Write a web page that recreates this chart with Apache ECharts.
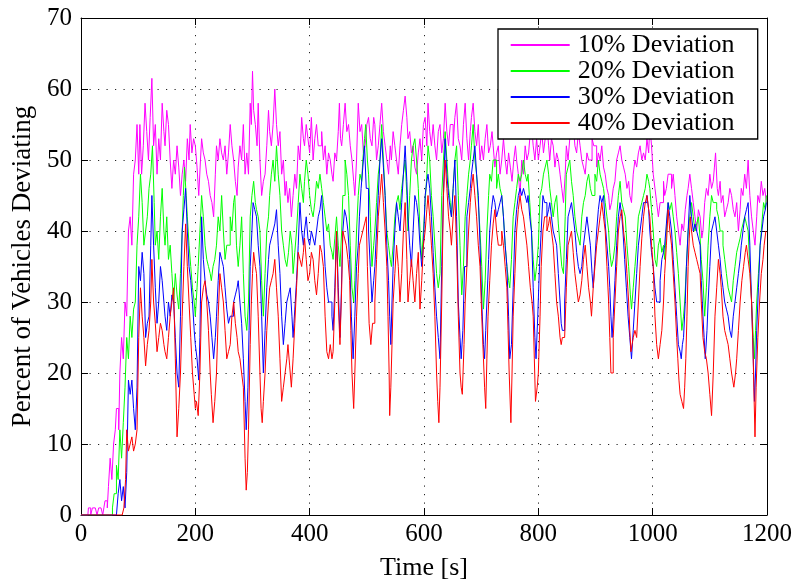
<!DOCTYPE html>
<html>
<head>
<meta charset="utf-8">
<script src="https://cdn.jsdelivr.net/npm/echarts@6/dist/echarts.min.js"></script>
<style>
  html, body { margin: 0; padding: 0; background: #fff; }
  #chart { width: 796px; height: 586px; }
</style>
</head>
<body>
<div id="chart"></div>
<script>
// Share of vehicles deviating from their route over time, one series per deviation threshold.
// Each entry is [time in seconds, percent of vehicles].
const seriesNames = ['10% Deviation', '20% Deviation', '30% Deviation', '40% Deviation'];
const xTicks = [0, 200, 400, 600, 800, 1000, 1200];
const yTicks = [0, 10, 20, 30, 40, 50, 60, 70];

const dev10 = [[0,0],[12,0],[13,1],[17,0],[20,1],[25,1],[28,0],[31,1],[35,1],[38,0],[40,1],[42,2],[46,1],[48,4],[51,8],[54,5],[57,10],[60,12],[62,15],[66,12],[68,20],[71,25],[74,22],[77,30],[80,28],[83,40],[86,42],[89,38],[92,48],[95,50],[98,55],[101,48],[103,55],[106,48],[109,52],[112,58],[115,54],[118,50],[121,56],[124,61.5],[127,52],[130,55],[133,48],[136,53],[139,50],[142,58],[145,54],[147,52],[150,57],[153,55],[156,50],[159,46],[162,50],[165,48],[168,52],[171,49],[174,45],[177,48],[180,50],[183,47],[186,53],[189,50],[191,55],[194,51],[197,53],[200,52],[203,49],[206,45],[209,50],[211,53],[214,51],[217,50],[220,48],[223,47],[226,45],[229,44],[232,42],[235,48],[237,52],[240,50],[243,53],[246,51],[249,50],[252,52],[255,48],[258,51],[261,55],[264,52],[267,50],[270,47],[273,45],[275,49],[278,52],[281,50],[284,55],[287,48],[290,51],[293,48],[296,58],[298,55],[300,62.5],[302,57],[305,55],[308,52],[310,58],[313,50],[316,45],[319,47],[322,48],[325,52],[328,57],[330,54],[333,52],[336,55],[339,60],[342,55],[345,52],[348,54],[351,48],[354,50],[357,45],[359,47],[362,44],[365,46],[368,42],[371,45],[374,48],[377,46],[380,52],[383,50],[386,56],[389,53],[391,52],[394,55],[397,53],[400,51],[403,56],[406,50],[409,53],[412,55],[415,52],[418,52],[421,54],[424,50],[427,52],[430,48],[433,51],[436,50],[439,48],[441,47],[444,51],[447,50],[450,54],[452,58],[454,53],[456,52],[459,55],[462,58],[465,54],[468,55],[471,52],[474,50],[477,47],[479,45],[482,50],[485,58],[488,54],[491,55],[494,51],[497,52],[500,55],[503,56],[506,53],[509,52],[512,56],[514,55],[517,50],[520,52],[523,55],[526,58],[529,54],[532,52],[535,50],[538,48],[541,52],[543,50],[546,54],[549,52],[552,50],[555,48],[558,52],[561,55],[564,57],[567,59],[570,56],[572,53],[575,54],[578,51],[581,52],[584,49],[587,48],[590,51],[593,53],[596,50],[599,55],[602,56],[605,52],[607,58],[610,54],[613,52],[616,55],[619,52],[622,50],[625,54],[628,55],[631,51],[634,53],[637,58],[640,54],[643,52],[646,55],[648,55],[651,52],[654,56],[657,58],[660,53],[663,52],[666,50],[669,55],[672,58],[675,53],[678,50],[681,54],[683,56],[686,58],[689,54],[692,52],[695,55],[698,50],[701,52],[704,50],[707,53],[710,55],[713,51],[716,52],[719,54],[721,52],[724,49],[727,51],[730,52],[733,48],[736,50],[739,53],[742,50],[745,48],[748,51],[751,49],[754,47],[757,50],[760,52],[762,50],[765,48],[768,45],[771,50],[774,48],[777,52],[780,50],[783,51],[786,54],[788,55],[791,52],[794,50],[797,53],[800,50],[803,52],[806,54],[809,51],[812,53],[815,55],[818,52],[820,50],[823,53],[826,52],[829,49],[832,51],[835,50],[838,48],[841,46],[844,44],[847,48],[849,52],[852,50],[855,53],[858,54],[861,55],[864,52],[867,51],[870,54],[873,52],[876,50],[879,49],[882,48],[885,51],[888,50],[891,50],[894,53],[897,52],[899,52],[902,49],[905,51],[908,50],[911,52],[914,49],[917,48],[920,46],[923,45],[925,43],[928,44],[931,46],[934,47],[937,50],[940,51],[943,52],[946,50],[949,49],[952,48],[955,46],[958,47],[960,45],[963,44],[966,48],[969,50],[972,49],[975,51],[978,52],[981,50],[984,51],[987,50],[990,53],[993,51],[995,55],[998,52],[1001,48],[1004,46],[1007,44],[1010,42],[1013,44],[1016,44],[1019,47],[1021,45],[1024,46],[1027,48],[1030,48],[1033,46],[1036,48],[1039,45],[1042,42],[1045,40],[1048,38],[1051,41],[1054,40],[1057,43],[1060,45],[1062,46],[1065,48],[1068,46],[1071,44],[1074,42],[1077,40],[1080,43],[1083,42],[1086,39],[1088,40],[1091,44],[1094,46],[1097,45],[1100,48],[1103,46],[1106,47],[1108,49],[1110,51],[1113,46],[1115,45],[1118,47],[1120,44],[1123,45],[1126,42],[1129,43],[1132,44],[1135,46],[1138,45],[1141,43],[1144,42],[1147,44],[1150,40],[1153,43],[1155,46],[1158,45],[1161,48],[1164,46],[1167,50],[1170,45],[1173,42],[1176,40],[1179,38],[1182,42],[1184,45],[1187,44],[1190,47],[1193,45],[1196,46],[1199,44]];

const dev20 = [[0,0],[50,0],[55,1],[58,3],[62,7],[65,5],[68,12],[71,8],[74,13],[77,18],[80,25],[83,22],[86,28],[89,25],[92,29],[95,30],[98,38],[101,42],[104,48],[107,44],[110,38],[113,40],[116,42],[119,46],[122,48],[125,52],[128,44],[130,38],[133,40],[136,36],[139,42],[142,46],[145,40],[147,38],[150,42],[153,36],[156,38],[159,34],[162,30],[165,34],[168,31],[171,29],[174,34],[177,40],[179,45],[181,49],[184,45],[186,42],[189,38],[192,35],[195,32],[198,30],[200,28],[203,32],[205,35],[208,40],[211,45],[214,42],[217,38],[220,36],[223,35],[226,34],[228,33],[231,35],[234,36],[237,38],[240,42],[243,40],[246,45],[249,40],[252,36],[255,38],[258,38],[261,42],[264,40],[267,44],[269,45],[272,38],[275,35],[278,38],[281,42],[284,34],[287,28],[290,26],[293,30],[296,42],[299,45],[302,47],[305,44],[307,43],[310,42],[313,40],[316,33],[319,28],[322,34],[325,40],[328,42],[330,45],[333,48],[336,50],[339,47],[342,52],[345,48],[348,45],[351,40],[354,38],[357,36],[360,35],[363,37],[366,40],[369,38],[371,34],[374,37],[377,40],[380,44],[383,48],[386,46],[389,44],[391,47],[394,50],[397,48],[400,45],[403,43],[406,42],[409,44],[412,47],[415,46],[418,48],[421,46],[424,44],[427,42],[430,40],[433,41],[436,38],[439,37],[441,36],[444,39],[447,42],[450,38],[453,35],[456,40],[458,45],[462,50],[465,48],[468,45],[471,38],[474,32],[477,30],[479,33],[482,40],[485,45],[488,48],[491,47],[493,50],[496,53],[498,55],[501,50],[503,48],[506,42],[509,35],[512,38],[514,40],[517,44],[520,48],[523,50],[526,55],[529,50],[532,45],[535,40],[538,38],[541,36],[543,35],[546,38],[549,42],[552,44],[555,45],[558,43],[561,46],[564,48],[567,50],[570,45],[572,40],[575,45],[578,50],[581,52],[584,53],[587,50],[590,46],[593,40],[596,36],[599,40],[602,44],[605,48],[607,52],[610,50],[613,45],[616,42],[619,38],[622,34],[625,32],[628,34],[631,45],[634,50],[637,54],[640,50],[643,46],[646,44],[648,42],[651,46],[654,50],[657,52],[660,45],[663,38],[666,31],[669,35],[672,42],[675,45],[678,48],[681,50],[683,52],[686,55],[689,50],[692,48],[695,44],[698,40],[701,35],[704,29],[707,33],[710,40],[713,45],[715,48],[718,47],[721,50],[724,50],[727,46],[730,48],[733,46],[736,45],[739,42],[742,38],[745,35],[748,33],[750,32],[753,36],[756,42],[759,44],[762,46],[765,48],[768,47],[771,48],[774,50],[777,48],[780,47],[782,48],[785,44],[788,40],[791,36],[794,33],[797,35],[800,38],[803,45],[806,46],[809,48],[812,49],[815,50],[818,48],[820,46],[823,44],[826,42],[829,44],[832,45],[835,41],[838,38],[841,35],[844,34],[847,42],[849,48],[852,49],[855,50],[858,47],[861,45],[864,42],[867,40],[870,39],[873,38],[876,42],[879,44],[882,45],[885,47],[888,48],[891,46],[894,45],[896,45],[899,48],[902,47],[905,50],[908,48],[911,47],[914,46],[917,44],[920,42],[923,40],[925,37],[928,35],[931,36],[934,38],[937,42],[940,45],[943,47],[946,44],[949,43],[952,42],[955,38],[958,35],[961,31],[963,29],[966,32],[969,35],[972,38],[975,42],[978,43],[981,44],[984,45],[987,46],[990,48],[993,47],[995,46],[998,43],[1001,40],[1004,36],[1007,35],[1010,38],[1013,39],[1016,37],[1019,38],[1021,36],[1024,40],[1027,44],[1030,43],[1033,44],[1036,42],[1039,40],[1042,37],[1045,34],[1048,30],[1051,26],[1054,28],[1056,30],[1059,35],[1062,40],[1065,42],[1068,44],[1071,42],[1074,40],[1077,41],[1080,42],[1083,39],[1085,36],[1088,33],[1091,28],[1094,32],[1097,38],[1100,42],[1103,45],[1106,44],[1109,44],[1112,43],[1115,42],[1118,40],[1120,40],[1123,38],[1126,36],[1129,34],[1132,32],[1135,31],[1138,30],[1141,33],[1144,35],[1147,37],[1150,38],[1153,39],[1155,40],[1158,41],[1161,42],[1164,41],[1167,40],[1170,35],[1173,30],[1176,25],[1178,22],[1180,26],[1182,30],[1185,34],[1188,38],[1191,41],[1194,44],[1197,43],[1199,45]];

const dev30 = [[0,0],[62,0],[65,3],[68,5],[71,2],[74,4],[77,1],[80,6],[83,19],[86,17],[89,19],[92,15],[95,12],[98,18],[101,35],[104,33],[107,37],[110,34],[113,25],[116,27],[119,28],[122,38],[124,45],[127,38],[130,32],[133,27],[136,30],[139,35],[142,33],[145,30],[147,28],[150,26],[153,30],[156,28],[159,31],[162,30],[165,25],[168,20],[171,18],[174,28],[177,40],[180,43],[183,46],[186,40],[189,35],[192,33],[195,30],[198,26],[200,24],[203,22],[206,19],[208,25],[211,42],[214,36],[217,33],[220,31],[223,30],[226,28],[229,25],[232,22],[235,25],[237,28],[240,33],[243,37],[246,36],[249,35],[252,32],[255,29],[258,27],[261,28],[264,28],[267,30],[270,31],[273,32],[275,33],[278,30],[281,27],[284,22],[287,16],[289,12],[292,18],[294,26],[296,35],[299,40],[301,44],[304,43],[307,42],[310,38],[313,35],[316,28],[319,20],[322,26],[325,32],[328,36],[330,38],[333,39],[336,40],[339,41],[342,43],[345,38],[348,34],[351,28],[354,24],[357,27],[360,30],[363,31],[366,32],[369,28],[371,25],[374,29],[377,33],[380,38],[383,44],[386,40],[389,38],[391,40],[394,42],[397,39],[400,38],[403,40],[406,39],[409,38],[412,40],[415,42],[418,43],[421,45],[424,40],[427,35],[430,32],[433,30],[436,30],[439,28],[441,26],[444,32],[447,40],[450,32],[453,25],[455,30],[458,40],[461,43],[464,42],[467,40],[470,36],[473,28],[476,22],[479,28],[482,35],[485,38],[487,42],[490,46],[493,49],[496,52],[499,46],[503,40],[506,35],[509,30],[512,33],[514,35],[517,40],[520,45],[523,50],[526,53],[529,49],[532,45],[535,38],[538,33],[540,28],[542,24],[544,30],[546,35],[549,40],[552,44],[555,42],[558,40],[561,44],[564,48],[567,52],[570,47],[572,42],[575,38],[578,35],[581,40],[584,45],[587,44],[590,42],[593,38],[596,35],[599,38],[602,45],[605,47],[607,48],[610,46],[613,42],[616,37],[619,32],[622,28],[625,25],[628,22],[631,35],[634,45],[637,53],[640,48],[643,45],[646,43],[648,42],[651,46],[654,50],[657,42],[660,30],[663,25],[665,22],[668,26],[671,35],[675,42],[678,44],[681,46],[683,48],[686,50],[689,52],[692,48],[695,45],[698,38],[701,30],[704,24],[706,22],[708,26],[710,30],[713,36],[715,40],[718,43],[721,45],[724,44],[727,42],[730,43],[733,44],[736,45],[739,42],[742,38],[745,35],[748,28],[750,22],[753,24],[756,32],[759,40],[762,43],[765,45],[768,46],[771,45],[774,46],[777,45],[780,44],[782,45],[785,42],[788,40],[791,32],[794,25],[796,22],[799,28],[802,35],[805,40],[808,45],[811,44],[815,42],[818,43],[820,44],[823,42],[826,40],[829,39],[832,38],[835,34],[838,30],[840,27],[842,26],[846,30],[849,36],[852,42],[855,43],[858,44],[861,42],[864,40],[867,37],[870,35],[873,34],[876,35],[879,38],[882,40],[885,42],[888,40],[891,38],[894,34],[896,32],[899,36],[902,40],[905,43],[908,45],[911,44],[914,45],[917,41],[920,38],[923,35],[925,32],[927,28],[929,25],[931,28],[934,33],[937,38],[940,42],[943,44],[946,42],[948,40],[951,36],[954,32],[957,28],[960,25],[963,22],[966,26],[969,30],[972,34],[975,38],[978,40],[981,42],[984,44],[987,44],[990,45],[993,43],[995,40],[998,37],[1001,35],[1004,32],[1007,30],[1010,30],[1013,33],[1016,36],[1019,37],[1021,38],[1024,41],[1027,44],[1030,42],[1033,40],[1036,36],[1039,32],[1042,28],[1045,24],[1048,23],[1050,22],[1052,24],[1054,25],[1057,30],[1059,35],[1062,40],[1065,45],[1068,42],[1071,40],[1074,41],[1077,40],[1080,39],[1083,38],[1085,33],[1088,28],[1090,25],[1092,22],[1095,26],[1097,30],[1100,35],[1103,40],[1106,41],[1109,42],[1112,40],[1115,38],[1118,36],[1120,34],[1123,32],[1126,30],[1129,29],[1132,28],[1135,26],[1138,25],[1141,28],[1144,30],[1147,32],[1150,34],[1153,36],[1155,38],[1158,40],[1161,42],[1164,43],[1167,44],[1170,38],[1173,30],[1176,22],[1178,16],[1180,20],[1182,26],[1185,32],[1188,38],[1191,40],[1194,42],[1197,43],[1199,44]];

const dev40 = [[0,0],[72,0],[75,1],[78,5],[80,12],[83,9],[86,10],[89,11],[92,9],[95,10],[98,12],[101,25],[104,32],[107,28],[110,25],[113,21],[116,24],[119,26],[122,30],[124,36],[127,30],[130,27],[133,23],[136,25],[139,27],[142,26],[145,24],[147,23],[150,22],[153,25],[156,28],[159,30],[162,32],[165,22],[168,11],[171,15],[174,20],[177,28],[180,35],[183,41],[186,35],[189,30],[192,25],[195,20],[198,17],[200,15],[202,16],[205,14],[208,20],[211,30],[214,32],[217,33],[220,30],[223,26],[226,20],[228,17],[231,13],[234,16],[237,20],[240,28],[243,34],[246,32],[249,30],[252,26],[255,22],[258,23],[261,24],[264,28],[267,30],[270,27],[273,25],[275,23],[278,22],[281,20],[284,18],[287,8],[289,3.5],[291,6],[293,12],[296,24],[298,30],[300,34],[302,37],[305,35],[307,34],[310,28],[313,20],[315,15],[317,13],[319,16],[322,20],[325,26],[328,30],[330,32],[333,33],[336,34],[339,36],[342,32],[345,28],[348,22],[351,16],[354,18],[357,20],[360,22],[362,24],[365,21],[368,18],[371,22],[374,27],[377,32],[380,37],[383,36],[386,35],[389,37],[391,39],[394,36],[397,33],[400,34],[403,37],[406,36],[409,33],[412,31],[415,34],[418,38],[421,37],[424,35],[427,28],[430,23],[433,22],[436,24],[439,22],[441,23],[444,30],[447,40],[450,30],[453,24],[456,32],[458,40],[461,39],[464,38],[467,36],[470,33],[472,26],[474,20],[477,15],[479,20],[482,28],[485,34],[487,38],[490,39],[493,40],[496,41],[499,42],[501,35],[504,27],[507,24],[510,27],[514,30],[517,36],[520,42],[523,45],[526,48],[529,44],[532,40],[535,35],[537,28],[539,20],[540,14],[542,18],[544,24],[546,30],[549,34],[552,38],[555,35],[558,30],[561,34],[564,40],[567,44],[570,36],[572,30],[575,33],[578,36],[581,33],[584,30],[587,34],[590,37],[593,29],[596,33],[599,38],[602,40],[605,43],[607,45],[610,42],[613,38],[616,34],[619,28],[622,20],[624,16],[626,13],[628,18],[631,30],[634,45],[637,50],[640,46],[643,42],[646,40],[648,38],[651,42],[654,45],[657,38],[660,28],[663,20],[665,18],[667,17],[670,24],[672,30],[675,35],[678,40],[681,44],[683,46],[686,48],[689,45],[692,42],[695,38],[698,35],[701,28],[704,22],[706,18],[708,15],[710,22],[712,28],[715,33],[718,38],[721,41],[724,43],[727,40],[730,38],[733,38],[736,40],[739,38],[742,35],[745,32],[747,26],[749,20],[752,13],[754,20],[756,28],[759,34],[762,40],[765,43],[768,45],[771,43],[774,42],[777,40],[780,38],[783,35],[786,32],[789,30],[791,28],[793,22],[795,16],[798,18],[800,20],[803,28],[805,35],[808,40],[811,42],[815,40],[818,41],[820,42],[823,40],[826,38],[829,34],[832,30],[835,28],[838,25],[840,24],[842,25],[846,25],[849,32],[852,38],[855,39],[858,40],[861,37],[864,34],[867,32],[870,30],[873,31],[876,33],[879,36],[882,38],[885,35],[888,32],[891,30],[893,28],[896,32],[899,35],[902,38],[905,40],[908,42],[911,44],[914,42],[917,40],[920,35],[923,30],[925,25],[927,20],[929,20],[931,25],[934,30],[937,35],[940,40],[943,42],[946,43],[949,40],[952,38],[955,34],[958,30],[960,26],[962,23],[964,24],[966,25],[969,26],[972,25],[975,30],[978,35],[981,39],[984,42],[987,44],[990,45],[993,43],[995,42],[998,38],[1001,35],[1004,28],[1007,24],[1010,22],[1013,24],[1016,26],[1019,30],[1021,34],[1024,38],[1027,43],[1030,40],[1033,38],[1036,34],[1039,30],[1042,25],[1044,22],[1046,19],[1048,17],[1051,16],[1054,15],[1056,18],[1058,22],[1060,28],[1062,35],[1064,39],[1066,42],[1068,40],[1071,38],[1074,37],[1077,36],[1080,35],[1083,34],[1085,30],[1088,25],[1091,23],[1094,22],[1097,20],[1100,17],[1103,14],[1106,20],[1109,28],[1112,32],[1115,36],[1118,34],[1120,32],[1123,28],[1126,26],[1129,25],[1132,24],[1135,22],[1138,20],[1140,19],[1142,18],[1145,20],[1147,22],[1150,26],[1153,30],[1156,33],[1159,35],[1162,37],[1164,38],[1167,36],[1170,34],[1173,30],[1175,25],[1177,18],[1179,11],[1181,18],[1184,25],[1187,30],[1190,34],[1193,36],[1195,38],[1198,40]];

const seriesData = [dev10, dev20, dev30, dev40];
const seriesColors = ['#ff00ff', '#00ff00', '#0000ff', '#ff0000'];

const FONT = 'Liberation Serif';
const xMin = xTicks[0], xMax = xTicks[xTicks.length - 1], xStep = xTicks[1] - xTicks[0];
const yMin = yTicks[0], yMax = yTicks[yTicks.length - 1], yStep = yTicks[1] - yTicks[0];

const tickStyle = { show: true, inside: true, length: 7, lineStyle: { color: '#000', width: 1 } };
const dotted = { show: true, lineStyle: { color: '#222', width: 1, type: [1.2, 7.3] } };
const plainNumber = v => String(v);

const chart = echarts.init(document.getElementById('chart'), null, { renderer: 'canvas' });
chart.setOption({
  animation: false,
  backgroundColor: '#fff',
  textStyle: { fontFamily: FONT },
  grid: { left: 81, right: 29, top: 18, bottom: 68, containLabel: false },
  legend: {
    orient: 'vertical',
    left: 498,
    top: 29,
    padding: [3, 12, 3, 12.7],
    itemGap: 0,
    itemWidth: 59,
    itemHeight: 2,
    icon: 'rect',
    backgroundColor: '#fff',
    borderColor: '#000',
    borderWidth: 1.3,
    data: seriesNames,
    textStyle: {
      fontFamily: FONT, fontSize: 26, color: '#000',
      lineHeight: 25.6, width: 168, padding: [0, 0, 0, 3]
    }
  },
  xAxis: [{
    type: 'value', min: xMin, max: xMax, interval: xStep,
    name: 'Time [s]', nameLocation: 'middle', nameGap: 40,
    nameTextStyle: { fontFamily: FONT, fontSize: 26, color: '#000' },
    axisLine: { show: true, onZero: false, lineStyle: { color: '#000', width: 1 } },
    axisTick: tickStyle,
    axisLabel: { fontFamily: FONT, fontSize: 25, color: '#000', margin: 7, formatter: plainNumber },
    splitLine: dotted
  }, {
    type: 'value', min: xMin, max: xMax, interval: xStep, position: 'top',
    axisLine: { show: true, onZero: false, lineStyle: { color: '#000', width: 1 } },
    axisTick: tickStyle, axisLabel: { show: false }, splitLine: { show: false }
  }],
  yAxis: [{
    type: 'value', min: yMin, max: yMax, interval: yStep,
    name: 'Percent of Vehicles Deviating', nameLocation: 'middle', nameGap: 42,
    nameTextStyle: { fontFamily: FONT, fontSize: 27, color: '#000' },
    axisLine: { show: true, onZero: false, lineStyle: { color: '#000', width: 1 } },
    axisTick: tickStyle,
    axisLabel: { fontFamily: FONT, fontSize: 25, color: '#000', margin: 9, formatter: plainNumber },
    splitLine: dotted
  }, {
    type: 'value', min: yMin, max: yMax, interval: yStep, position: 'right',
    axisLine: { show: true, onZero: false, lineStyle: { color: '#000', width: 1 } },
    axisTick: tickStyle, axisLabel: { show: false }, splitLine: { show: false }
  }],
  series: seriesNames.map((name, i) => ({
    name: name,
    type: 'line',
    xAxisIndex: 0,
    yAxisIndex: 0,
    data: seriesData[i],
    step: 'end',
    showSymbol: false,
    symbol: 'none',
    sampling: null,
    color: seriesColors[i],
    lineStyle: { color: seriesColors[i], width: 1 },
    z: 2 + i
  }))
});
</script>
</body>
</html>
